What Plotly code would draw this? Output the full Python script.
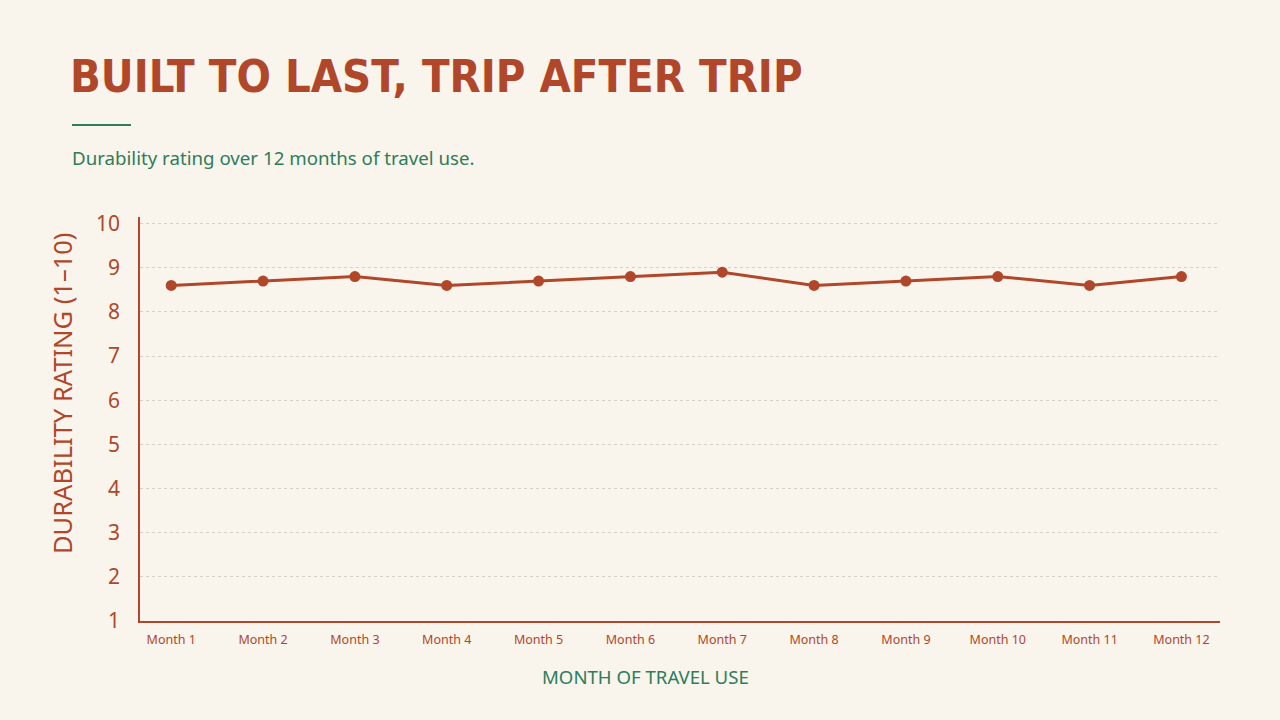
import plotly.graph_objects as go

months = ["Month 1", "Month 2", "Month 3", "Month 4", "Month 5", "Month 6",
          "Month 7", "Month 8", "Month 9", "Month 10", "Month 11", "Month 12"]
ratings = [8.6, 8.7, 8.8, 8.6, 8.7, 8.8, 8.9, 8.6, 8.7, 8.8, 8.6, 8.8]
y_ticks = [1, 2, 3, 4, 5, 6, 7, 8, 9, 10]

BRICK = "#B0472A"
GREEN = "#2E7D5B"
BG = "#F9F4EC"

W, H = 1280, 720
L, R, T, B = 140, 60, 217, 99
pw, ph = W - L - R, H - T - B

def px(x):
    return (x - L) / pw

def py(y):
    return (H - B - y) / ph

fig = go.Figure()
fig.add_trace(go.Scatter(
    x=months, y=ratings, mode="lines+markers",
    line=dict(color=BRICK, width=3),
    marker=dict(color=BRICK, size=11),
    hoverinfo="x+y", showlegend=False,
))

fig.update_layout(
    width=W, height=H,
    margin=dict(l=L, r=R, t=T, b=B),
    paper_bgcolor=BG, plot_bgcolor=BG,
    font=dict(family="Noto Sans, sans-serif", color=BRICK),
    xaxis=dict(
        type="category", range=[-0.34, 11.42],
        showgrid=False, showline=True, linecolor=BRICK, linewidth=1.5,
        ticks="", tickfont=dict(size=12.5, color=BRICK), ticklabelstandoff=6,
        zeroline=False, fixedrange=True,
    ),
    yaxis=dict(
        range=[1, 10.15], tickvals=y_ticks,
        showgrid=True, gridcolor="#D6D0C7", griddash="dot", gridwidth=1,
        showline=True, linecolor=BRICK, linewidth=1.5,
        ticks="", tickfont=dict(size=21, color=BRICK), ticklabelstandoff=14,
        zeroline=False, fixedrange=True,
    ),
    shapes=[dict(type="line", xref="paper", yref="paper",
                 x0=px(72), x1=px(131), y0=py(125), y1=py(125),
                 line=dict(color=GREEN, width=2))],
    annotations=[
        dict(text="<b>BUILT TO LAST, TRIP AFTER TRIP</b>", xref="paper", yref="paper",
             x=px(68), y=py(77), xanchor="left", yanchor="middle", showarrow=False,
             font=dict(family="DejaVu Sans Condensed, DejaVu Sans, sans-serif", size=45,
                       color=BRICK)),
        dict(text="Durability rating over 12 months of travel use.", xref="paper", yref="paper",
             x=px(70), y=py(157), xanchor="left", yanchor="middle", showarrow=False,
             font=dict(family="Noto Sans, sans-serif", size=18.7, color=GREEN)),
        dict(text="DURABILITY RATING (1–10)", xref="paper", yref="paper",
             x=px(62), y=py(394), xanchor="center", yanchor="middle", showarrow=False,
             textangle=-90,
             font=dict(family="Noto Sans, sans-serif", size=25.5, color=BRICK)),
        dict(text="MONTH OF TRAVEL USE", xref="paper", yref="paper",
             x=px(645), y=py(676), xanchor="center", yanchor="middle", showarrow=False,
             font=dict(family="Noto Sans, sans-serif", size=18.6, color=GREEN)),
    ],
)

fig.write_html("out.html")
